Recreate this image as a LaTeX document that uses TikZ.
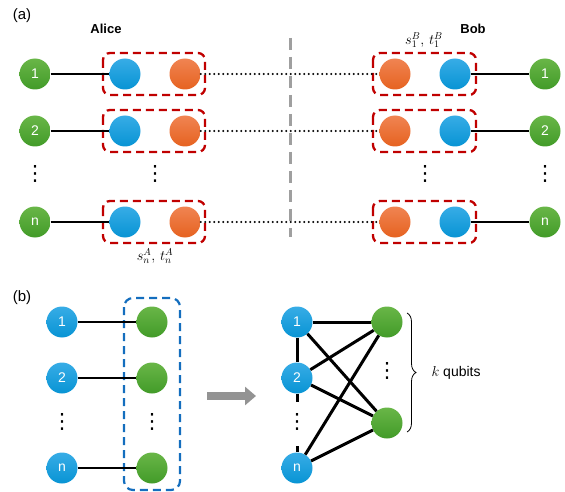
\documentclass[tikz,border=0pt]{standalone}
\usepackage{fontspec}
\setmainfont{Liberation Sans}
\newfontfamily\dejavu{DejaVu Sans}
\usepackage{amsmath}
\usetikzlibrary{decorations.pathreplacing,arrows.meta,calc}
\definecolor{qgreen}{RGB}{66,155,40}
\definecolor{qgreenT}{RGB}{105,182,72}
\definecolor{qblue}{RGB}{8,148,212}
\definecolor{qblueT}{RGB}{55,172,230}
\definecolor{qorange}{RGB}{230,98,32}
\definecolor{qorangeT}{RGB}{240,132,82}
\definecolor{qred}{RGB}{192,0,0}
\definecolor{qdblue}{RGB}{20,110,190}
\newcommand{\myvd}{{\dejavu\fontsize{21}{21}\selectfont ⋮}}
\tikzset{
  ball/.style={circle,minimum size=31pt,inner sep=0pt,text=white,font=\fontsize{14}{16}\selectfont},
  gball/.style={ball,top color=qgreenT,bottom color=qgreen},
  bball/.style={ball,top color=qblueT,bottom color=qblue},
  oball/.style={ball,top color=qorangeT,bottom color=qorange},
  link/.style={line width=2.6pt,black},
  ent/.style={line width=2.4pt,dash pattern=on 0pt off 4.5pt,line cap=round},
  redbox/.style={draw=qred,line width=2.3pt,dash pattern=on 8pt off 5pt,rounded corners=7pt},
  bluebox/.style={draw=qdblue,line width=2.2pt,dash pattern=on 8pt off 5pt,rounded corners=9pt},
  vdots/.style={inner sep=0pt},
  lbl/.style={font=\fontsize{15}{17}\selectfont},
}
\begin{document}
\begin{tikzpicture}[x=1pt,y=-1pt]
\useasboundingbox (0,0) rectangle (565,492);
% ---------- panel (a)
\node[lbl] (la) at (22,16) {(a)};
\node[font=\bfseries\fontsize{13}{15}\selectfont] (alice) at (106,29) {Alice};
\node[font=\bfseries\fontsize{13}{15}\selectfont] (bob) at (473,29) {Bob};
\coordinate (dtop) at (290,38);
\coordinate (dbot) at (290,237);
\draw[gray!75,line width=3pt,dash pattern=on 12pt off 7pt] (dtop) -- (dbot);
% boxes
\foreach \y/\n in {74/1,131/2,222/3}{
  \draw[redbox] (103,{\y-21}) rectangle (205,{\y+21});
  \draw[redbox] (373,{\y-21}) rectangle (476,{\y+21});
}
% rows
\foreach \y/\n/\t in {74/1/1,131/2/2,222/3/n}{
  \node[gball] (ga\n) at (35,\y) {\t};
  \node[bball] (ba\n) at (125,\y) {};
  \node[oball] (oa\n) at (185,\y) {};
  \node[oball] (ob\n) at (395,\y) {};
  \node[bball] (bb\n) at (455,\y) {};
  \node[gball] (gb\n) at (545,\y) {\t};
  \draw[link] (ga\n) -- (ba\n);
  \draw[link] (bb\n) -- (gb\n);
  \draw[ent] (oa\n.east) -- (ob\n.west);
}
\node[vdots] (d1) at (35,174) {\myvd};
\node[vdots] (d2) at (155,174) {\myvd};
\node[vdots] (d3) at (425,174) {\myvd};
\node[vdots] (d4) at (545,174) {\myvd};
\node[font=\fontsize{14}{16}\selectfont] (sa) at (155,256) {$s_n^A,\,t_n^A$};
\node[font=\fontsize{14}{16}\selectfont] (sb) at (424,40) {$s_1^B,\,t_1^B$};
% ---------- panel (b)
\node[lbl] (lb) at (22,298) {(b)};
\draw[bluebox] (124,298) rectangle (180,490);
\foreach \y/\n/\t in {322/1/1,378/2/2,468/3/n}{
  \node[bball] (lq\n) at (62,\y) {\t};
  \node[gball] (lg\n) at (152,\y) {};
  \draw[link,line width=2.2pt] (lq\n) -- (lg\n);
}
\node[vdots] (d5) at (62,422) {\myvd};
\node[vdots] (d6) at (152,422) {\myvd};
% arrow
\coordinate (as) at (207,396);
\coordinate (ae) at (256,396);
\draw[gray!85,line width=8pt,-{Triangle[length=11pt,width=18pt]}] (as) -- (ae);
% right graph
\node[bball] (r1) at (297,322) {1};
\node[bball] (r2) at (297,378) {2};
\node[bball] (rn) at (297,468) {n};
\node[gball] (k1) at (387,322) {};
\node[gball] (k2) at (387,423) {};
\node[vdots] (d7) at (297,422) {\myvd};
\node[vdots] (d8) at (387,371) {\myvd};
\coordinate (s1) at (297,402);
\coordinate (s2) at (297,446);
\draw[link,line width=3pt] (r1) -- (r2);
\draw[link,line width=3pt] (r2) -- (s1);
\draw[link,line width=3pt] (s2) -- (rn);
\foreach \a in {r1,r2,rn}{
  \foreach \b in {k1,k2}{
    \draw[link,line width=3pt] (\a) -- (\b);
  }
}
\draw[decorate,decoration={brace,amplitude=9pt},line width=0.8pt] (407,313) -- (407,432) coordinate[midway] (bm);
\node[anchor=west,font=\fontsize{14}{16}\selectfont] (kq) at (428,373) {$k$ qubits};
\end{tikzpicture}
\end{document}
